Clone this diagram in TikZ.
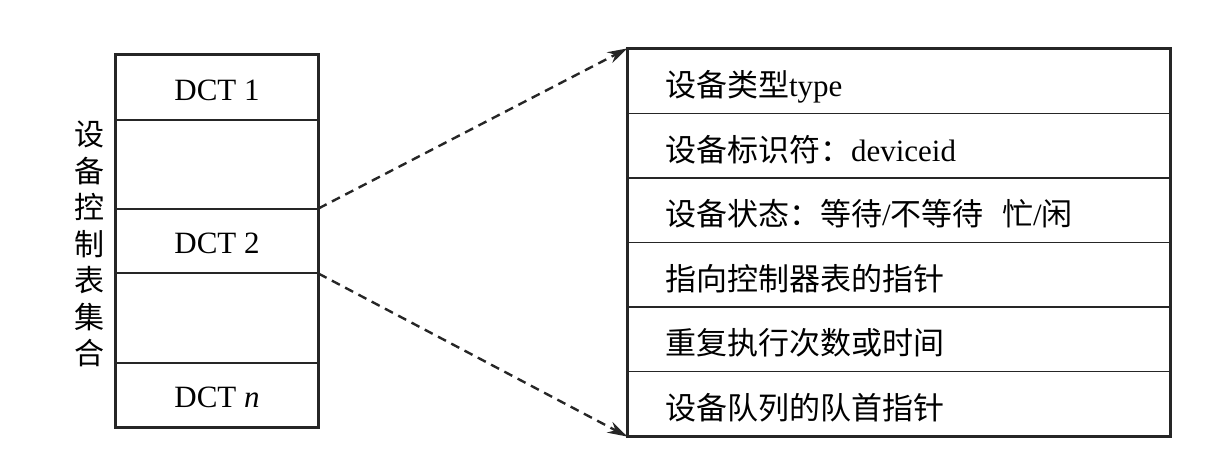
\documentclass[tikz,border=0pt]{standalone}
\usepackage{fontspec}
\setmainfont{Liberation Serif}
\newfontfamily\cjk{Noto Sans CJK SC}
\usetikzlibrary{arrows.meta}
\begin{document}
\begin{tikzpicture}[x=1pt,y=-1pt,
  cell/.style={draw=black!85, line width=1.2pt, minimum width=202pt, inner sep=0pt, text height=25.4pt, text depth=0pt, font=\fontsize{31}{36}\selectfont},
  field/.style={draw=black!85, line width=1.2pt, minimum width=542pt, minimum height=64.5pt, text width=468pt, inner xsep=37pt, inner ysep=0pt, text height=31pt, text depth=0pt, align=left, font=\fontsize{31}{36}\selectfont},
  outer/.style={draw=black!85, line width=2.6pt},
  ptr/.style={draw=black!85, dash pattern=on 9pt off 6pt, line width=2.4pt, -{Stealth[length=20pt,width=12pt]}},
  vlabel/.style={font=\cjk\fontsize{30}{36.5}\selectfont, align=center, inner sep=0pt}
]
\useasboundingbox (0,0) rectangle (1208,472);
% left table
\node[cell, minimum height=65pt] (d1) at (217,87.5) {DCT 1};
\node[cell, minimum height=89pt] (e1) at (217,164.5) {};
\node[cell, minimum height=64pt] (d2) at (217,241) {DCT 2};
\node[cell, minimum height=90pt] (e2) at (217,318) {};
\node[cell, minimum height=64pt] (dn) at (217,395) {DCT \textit{n}};
\draw[outer] (d1.north west) rectangle (dn.south east);
\node[vlabel] (vt) at (89,244) {设\\备\\控\\制\\表\\集\\合};
% right table
\node[field] (f1) at (899,81.25) {{\cjk 设备类型}type};
\node[field] (f2) at (899,145.75) {{\cjk 设备标识符：}deviceid};
\node[field] (f3) at (899,210.25) {{\cjk 设备状态：等待}/{\cjk 不等待}\hspace{0.6em}{\cjk 忙}/{\cjk 闲}};
\node[field] (f4) at (899,274.75) {{\cjk 指向控制器表的指针}};
\node[field] (f5) at (899,339.25) {{\cjk 重复执行次数或时间}};
\node[field] (f6) at (899,403.75) {{\cjk 设备队列的队首指针}};
\draw[outer] (f1.north west) rectangle (f6.south east);
% connectors
\draw[ptr] (d2.north east) -- (f1.north west);
\draw[ptr] (d2.south east) -- (f6.south west);
\end{tikzpicture}
\end{document}
